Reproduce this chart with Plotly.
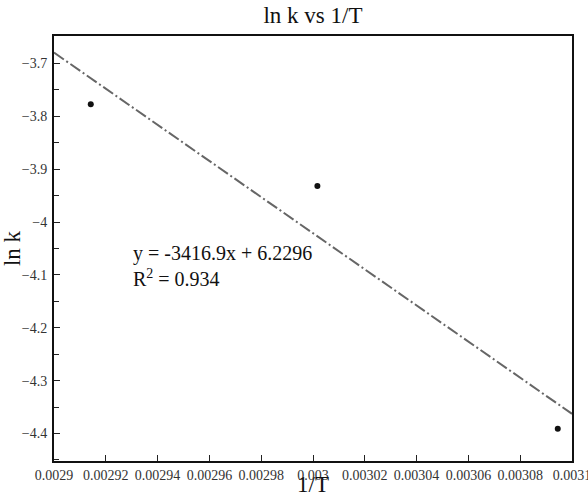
import plotly.graph_objects as go

# data
inv_T = [0.0029142, 0.0030017, 0.0030945]
ln_k = [-3.777, -3.932, -4.391]
slope = -3416.9
intercept = 6.2296
r2 = 0.934
fit_x = [0.0029, 0.0031]
fit_y = [slope * v + intercept for v in fit_x]

x_tickvals = [0.0029, 0.00292, 0.00294, 0.00296, 0.00298, 0.003, 0.00302, 0.00304, 0.00306, 0.00308, 0.0031]
x_ticktext = ["0.0029", "0.00292", "0.00294", "0.00296", "0.00298", "0.003", "0.00302", "0.00304", "0.00306", "0.00308", "0.0031"]
y_tickvals = [-3.7, -3.8, -3.9, -4.0, -4.1, -4.2, -4.3, -4.4]
y_ticktext = ["\u22123.7", "\u22123.8", "\u22123.9", "\u22124", "\u22124.1", "\u22124.2", "\u22124.3", "\u22124.4"]
y_minor = [v - 0.05 for v in y_tickvals] + [y_tickvals[-1] - 0.05]

serif = "Liberation Serif"

fig = go.Figure()
fig.add_trace(go.Scatter(
    x=fit_x, y=fit_y, mode="lines",
    line=dict(color="#666666", width=2, dash="12px,3px,2px,3px"),
    showlegend=False, hoverinfo="skip"))
fig.add_trace(go.Scatter(
    x=inv_T, y=ln_k, mode="markers",
    marker=dict(color="#111111", size=6),
    showlegend=False))

fig.add_annotation(
    xref="paper", yref="paper", x=0.149, y=0.52, xanchor="left", yanchor="top",
    text=f"y = {slope}x + {intercept}<br>R<sup>2</sup> = {r2}",
    showarrow=False, align="left",
    font=dict(family=serif, size=20, color="#111111"))

fig.update_layout(
    width=588, height=497,
    margin=dict(l=54, r=16, t=36, b=36, autoexpand=False),
    paper_bgcolor="white", plot_bgcolor="white",
    title=dict(text="ln k vs 1/T", x=(54 + 572) / 2 / 588, xanchor="center",
               y=1 - 15 / 497, yanchor="middle",
               font=dict(family=serif, size=23, color="#111111")),
    font=dict(family=serif),
    xaxis=dict(
        range=[0.0029, 0.0031], tickmode="array", tickvals=x_tickvals, ticktext=x_ticktext,
        ticks="inside", ticklen=6, tickwidth=1, tickcolor="#222222",
        showline=True, linecolor="#111111", linewidth=2, mirror=True,
        showgrid=False, zeroline=False, automargin=False, ticklabeloverflow="allow",
        tickfont=dict(family=serif, size=14, color="#333333"),
        title=dict(text="1/T", standoff=1, font=dict(family=serif, size=23, color="#111111")),
    ),
    yaxis=dict(
        range=[-4.452, -3.648], tickmode="array", tickvals=y_tickvals, ticktext=y_ticktext,
        ticks="inside", ticklen=6, tickwidth=1, tickcolor="#222222",
        minor=dict(tickmode="array", tickvals=y_minor, ticks="inside", ticklen=5, tickcolor="#222222"),
        showline=True, linecolor="#111111", linewidth=2, mirror=True,
        showgrid=False, zeroline=False, automargin=False, ticklabeloverflow="allow",
        ticklabelstandoff=2,
        tickfont=dict(family=serif, size=14, color="#333333"),
        title=dict(text="ln k", standoff=0, font=dict(family=serif, size=23, color="#111111")),
    ),
)

fig.write_html("out.html", config={"displayModeBar": False},
               post_script="document.body.style.margin='0';")
